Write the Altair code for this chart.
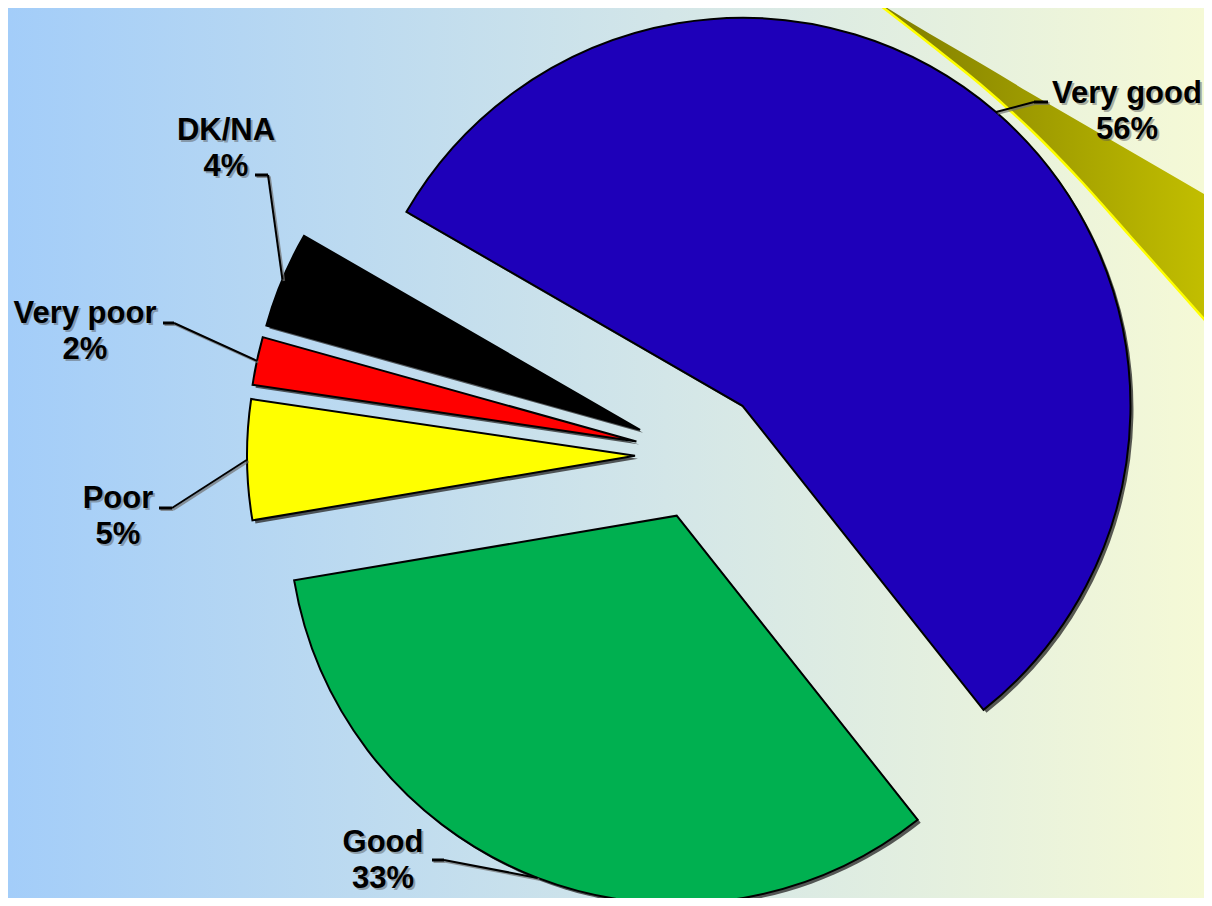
import math
import altair as alt
import pandas as pd

# ---------------- data ----------------
categories = ["Very good", "Good", "Poor", "Very poor", "DK/NA"]
values = [56, 33, 5, 2, 4]

# ---------------- styling ----------------
slice_colors = ["#1E00B9", "#00B050", "#FFFF00", "#FF0000", "#000000"]

# label anchors (page pixels): centre x, first-line baseline y
label_x = [1127, 383, 118, 85, 226]
label_y = [103, 852, 508, 323, 140]
# leader lines: start of horizontal tick, elbow, tick height
lead_start_x = [1048, 432, 159, 163, 255]
lead_elbow_x = [1034, 444, 172, 174, 268]
lead_y = [102, 860, 508, 323, 175]

# decorative template swoosh (page pixels)
decor_x = [868, 930, 980, 1030, 1080, 1130, 1180, 1240]
decor_top = [-4, 34, 63, 93, 122, 151, 180, 215]
decor_bottom = [-4, 44, 84, 129, 180, 236, 292, 360]

M = 8                      # page margin
W, H = 1212 - 2 * M, 906 - 2 * M
CX, CY = 700 - M, 455 - M  # pie centre (before explode)
R = 388
EXPLODE = 65
START = math.radians(300)
FONT = "Liberation Sans"

df = pd.DataFrame({
    "category": categories,
    "value": values,
    "order": list(range(len(categories))),
    "label": [f"{c}\n{v}%" for c, v in zip(categories, values)],
    "lx": [v - M for v in label_x],
    "ly": [v - M for v in label_y],
    "sx": [v - M for v in lead_start_x],
    "elx": [v - M for v in lead_elbow_x],
    "ely": [v - M for v in lead_y],
})

color_scale = alt.Scale(domain=categories, range=slice_colors)

base = (
    alt.Chart(df)
    .transform_joinaggregate(total="sum(value)")
    .transform_window(cum="sum(value)", sort=[alt.SortField("order")])
    .transform_calculate(
        t0=f"{START} + 2*PI*(datum.cum - datum.value)/datum.total",
        t1=f"{START} + 2*PI*datum.cum/datum.total",
    )
    .transform_calculate(mid="(datum.t0 + datum.t1)/2")
    .transform_calculate(
        cx=f"{CX} + {EXPLODE}*sin(datum.mid)",
        cy=f"{CY} - {EXPLODE}*cos(datum.mid)",
    )
    .transform_calculate(
        shx="datum.cx + 3",
        shy="datum.cy + 3",
        ex=f"datum.cx + {R}*sin(datum.mid)",
        ey=f"datum.cy - {R}*cos(datum.mid)",
    )
    .transform_calculate(
        sx1="datum.sx + 1.5", elx1="datum.elx + 1.5", ely1="datum.ely + 1.5",
        ex1="datum.ex + 1.5", ey1="datum.ey + 1.5",
    )
)

# background gradient
bg = alt.Chart(pd.DataFrame({"a": [0]})).mark_rect(
    fill=alt.Gradient(
        gradient="linear",
        stops=[
            alt.GradientStop(color="#A3CDF9", offset=0),
            alt.GradientStop(color="#D3E6E8", offset=0.55),
            alt.GradientStop(color="#F5F9D6", offset=1),
        ],
        x1=0, x2=1, y1=0, y2=0,
    )
).encode(x=alt.value(0), x2=alt.value(W), y=alt.value(0), y2=alt.value(H))

decor_df = pd.DataFrame({
    "x": [v - M for v in decor_x],
    "top": [v - M for v in decor_top],
    "bottom": [v - M for v in decor_bottom],
})
decor_area = alt.Chart(decor_df).mark_area(
    orient="vertical",
    interpolate="monotone",
    fill=alt.Gradient(
        gradient="linear",
        stops=[
            alt.GradientStop(color="#7C7A00", offset=0),
            alt.GradientStop(color="#C9C500", offset=1),
        ],
        x1=0, x2=1, y1=0, y2=0,
    ),
).encode(
    x=alt.X("x:Q", scale=None, axis=None),
    y=alt.Y("top:Q", scale=None, axis=None),
    y2="bottom:Q",
)
decor_line = alt.Chart(decor_df).mark_line(
    color="#FFFF00", strokeWidth=2.5, interpolate="monotone"
).encode(
    x=alt.X("x:Q", scale=None, axis=None),
    y=alt.Y("bottom:Q", scale=None, axis=None),
)

shadow = base.mark_arc(radius=R, color="#303030", opacity=0.8).encode(
    theta=alt.Theta("t0:Q", scale=None, stack=False),
    theta2="t1:Q",
    x=alt.X("shx:Q", scale=None, axis=None),
    y=alt.Y("shy:Q", scale=None, axis=None),
)

slices = base.mark_arc(radius=R, stroke="#000000", strokeWidth=2).encode(
    theta=alt.Theta("t0:Q", scale=None, stack=False),
    theta2="t1:Q",
    x=alt.X("cx:Q", scale=None, axis=None),
    y=alt.Y("cy:Q", scale=None, axis=None),
    color=alt.Color("category:N", scale=color_scale, legend=None),
)

# leader line shadows
lead_s_sh = base.mark_rule(color="#707070", strokeWidth=2.5, opacity=0.7).encode(
    x=alt.X("elx1:Q", scale=None, axis=None),
    x2="ex1:Q",
    y=alt.Y("ely1:Q", scale=None, axis=None),
    y2="ey1:Q",
)
lead_h_sh = base.mark_rule(color="#707070", strokeWidth=3, opacity=0.7).encode(
    x=alt.X("sx1:Q", scale=None, axis=None),
    x2="elx1:Q",
    y=alt.Y("ely1:Q", scale=None, axis=None),
    y2="ely1:Q",
)
lead_h = base.mark_rule(color="#000000", strokeWidth=3).encode(
    x=alt.X("sx:Q", scale=None, axis=None),
    x2="elx:Q",
    y=alt.Y("ely:Q", scale=None, axis=None),
    y2="ely:Q",
)
lead_s = base.mark_rule(color="#000000", strokeWidth=2).encode(
    x=alt.X("elx:Q", scale=None, axis=None),
    x2="ex:Q",
    y=alt.Y("ely:Q", scale=None, axis=None),
    y2="ey:Q",
)

label_shadow = base.mark_text(
    font=FONT, fontSize=31, fontWeight="bold", align="center",
    baseline="alphabetic", lineBreak="\n", lineHeight=36,
    color="#555555", opacity=0.45, dx=2, dy=2,
).encode(
    x=alt.X("lx:Q", scale=None, axis=None),
    y=alt.Y("ly:Q", scale=None, axis=None),
    text="label:N",
)
labels = base.mark_text(
    font=FONT, fontSize=31, fontWeight="bold", align="center",
    baseline="alphabetic", lineBreak="\n", lineHeight=36,
    color="#000000",
).encode(
    x=alt.X("lx:Q", scale=None, axis=None),
    y=alt.Y("ly:Q", scale=None, axis=None),
    text="label:N",
)

chart = alt.layer(
    bg, decor_area, decor_line, shadow, slices,
    lead_s_sh, lead_h_sh, lead_h, lead_s, label_shadow, labels
).properties(
    width=W,
    height=H,
    padding=0,
    autosize=alt.AutoSizeParams(type="none"),
).configure_view(stroke="transparent")

chart.save("out.html", embed_options={"renderer": "svg", "actions": False})
